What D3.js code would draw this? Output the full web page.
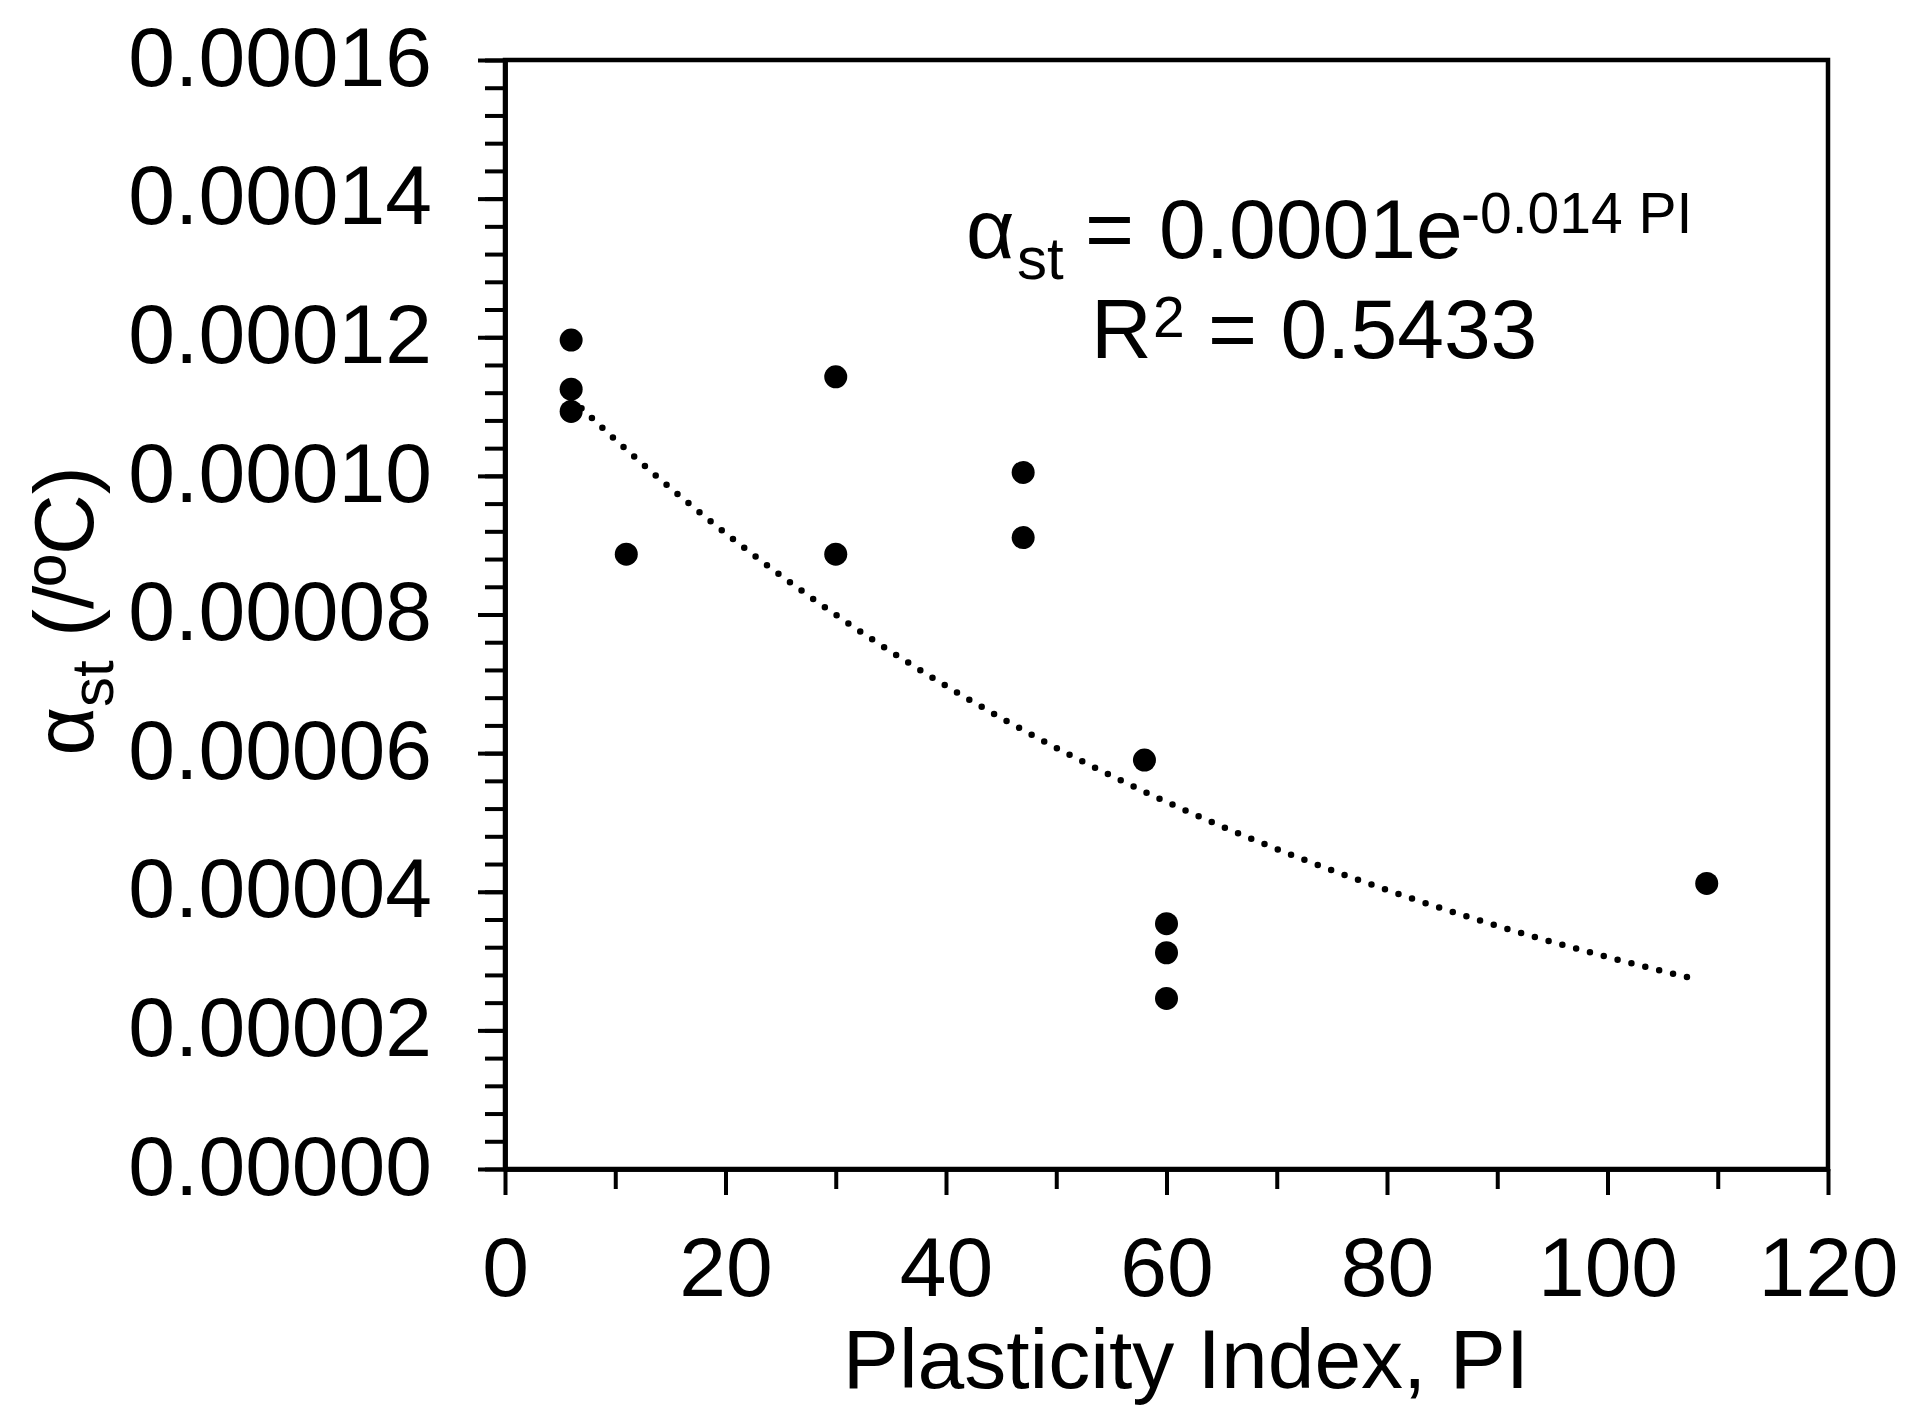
<!DOCTYPE html>
<html>
<head>
<meta charset="utf-8">
<script src="https://cdn.jsdelivr.net/npm/d3@7"></script>
<style>
  html, body { margin: 0; padding: 0; background: #fff; }
  svg { display: block; }
  text { font-family: "Liberation Sans", Arial, sans-serif; fill: #000; }
</style>
</head>
<body>
<svg id="chart" width="1923" height="1413"></svg>
<script>
// ---- data ----
const plasticityIndex = [6, 6, 6, 11, 30, 30, 47, 47, 58, 60, 60, 60, 109];
const alphaSt = [0.0001196, 0.0001125, 0.0001093, 0.0000887, 0.0001143, 0.0000887,
                 0.0001005, 0.0000911, 0.0000590, 0.0000354, 0.0000312, 0.0000246, 0.0000412];
const xMajorTicks = [0, 20, 40, 60, 80, 100, 120];
const xMinorTicks = [10, 30, 50, 70, 90, 110];
const yMajorTicks = [0, 0.00002, 0.00004, 0.00006, 0.00008, 0.00010, 0.00012, 0.00014, 0.00016];
const yMinorTicks = d3.range(0, 0.000161, 0.000004);
const equationText = "0.0001e";
const exponentText = "-0.014 PI";
const r2Text = "= 0.5433";
const xTitle = "Plasticity Index, PI";

// ---- layout ----
const svg = d3.select("#chart");
svg.append("rect").attr("width", 1923).attr("height", 1413).attr("fill", "#fff");

const L = 505, R = 1828, T = 60, B = 1169;
const x = d3.scaleLinear().domain([0, 120]).range([L, R]);
const y = d3.scaleLinear().domain([0, 0.00016]).range([B, T]);
const FONT = 84;

// frame
svg.append("rect")
  .attr("x", L).attr("y", T).attr("width", R - L).attr("height", B - T)
  .attr("fill", "none").attr("stroke", "#000").attr("stroke-width", 4.5);

function styleAxis(g) {
  g.select(".domain").attr("stroke", "#000").attr("stroke-width", 4.5);
  g.selectAll(".tick line").attr("stroke", "#000").attr("stroke-width", 4);
  g.selectAll("text").attr("font-size", FONT).attr("font-family", '"Liberation Sans", Arial, sans-serif').attr("fill", "#000");
}

// y minor
svg.append("g").attr("transform", `translate(${L},0)`)
  .call(d3.axisLeft(y).tickValues(yMinorTicks).tickSize(20).tickSizeOuter(0).tickFormat(""))
  .call(styleAxis);
// y major
svg.append("g").attr("transform", `translate(${L},0)`)
  .call(d3.axisLeft(y).tickValues(yMajorTicks).tickSize(27).tickSizeOuter(0)
        .tickPadding(46).tickFormat(d3.format(".5f")))
  .call(styleAxis)
  .call(g => g.selectAll("text").attr("dy", "0.3em"));

// x minor
svg.append("g").attr("transform", `translate(0,${B})`)
  .call(d3.axisBottom(x).tickValues(xMinorTicks).tickSize(20).tickSizeOuter(0).tickFormat(""))
  .call(styleAxis);
// x major
svg.append("g").attr("transform", `translate(0,${B})`)
  .call(d3.axisBottom(x).tickValues(xMajorTicks).tickSize(26).tickSizeOuter(0)
        .tickPadding(41).tickFormat(d3.format("d")))
  .call(styleAxis);

// ---- exponential trendline (least squares on ln y) ----
const n = plasticityIndex.length;
const lny = alphaSt.map(Math.log);
const mx = d3.mean(plasticityIndex), my = d3.mean(lny);
let sxy = 0, sxx = 0;
for (let i = 0; i < n; i++) {
  sxy += (plasticityIndex[i] - mx) * (lny[i] - my);
  sxx += (plasticityIndex[i] - mx) ** 2;
}
const k = sxy / sxx;
const A = Math.exp(my - k * mx);
const xs = d3.range(d3.min(plasticityIndex), 108.01, 0.5);
const trend = xs.map(v => [v, A * Math.exp(k * v)]);
svg.append("path")
  .datum(trend)
  .attr("d", d3.line().x(d => x(d[0])).y(d => y(d[1])))
  .attr("fill", "none").attr("stroke", "#000").attr("stroke-width", 6.5)
  .attr("stroke-linecap", "round").attr("stroke-dasharray", "0 14.3");

// ---- points ----
svg.append("g").selectAll("circle")
  .data(plasticityIndex.map((p, i) => [p, alphaSt[i]]))
  .join("circle")
  .attr("cx", d => x(d[0])).attr("cy", d => y(d[1]))
  .attr("r", 11.5).attr("fill", "#000");

// ---- equation annotation ----
const eq = svg.append("text").attr("font-size", FONT).attr("y", 258);
eq.append("tspan").attr("x", 966).text("α");
eq.append("tspan").attr("x", 1017).attr("font-size", 60).attr("dy", 21).text("st");
eq.append("tspan").attr("x", 1085).attr("dy", -21).text("=");
eq.append("tspan").attr("x", 1159).text(equationText);
eq.append("tspan").attr("x", 1461).attr("font-size", 57).attr("dy", -25).text(exponentText);

const r2 = svg.append("text").attr("font-size", FONT).attr("y", 358);
r2.append("tspan").attr("x", 1091).text("R");
r2.append("tspan").attr("x", 1153).attr("font-size", 57).attr("dy", -21).text("2");
r2.append("tspan").attr("x", 1208).attr("dy", 21).text(r2Text);

// ---- axis titles ----
svg.append("text")
  .attr("x", 1186).attr("y", 1388).attr("text-anchor", "middle")
  .attr("font-size", FONT).text(xTitle);

const yt = svg.append("text")
  .attr("transform", "translate(93,611) rotate(-90)")
  .attr("text-anchor", "middle").attr("font-size", FONT);
yt.append("tspan").text("α");
yt.append("tspan").attr("font-size", 60).attr("dy", 20).text("st");
yt.append("tspan").attr("dy", -20).text(" (/ºC)");
</script>
</body>
</html>
